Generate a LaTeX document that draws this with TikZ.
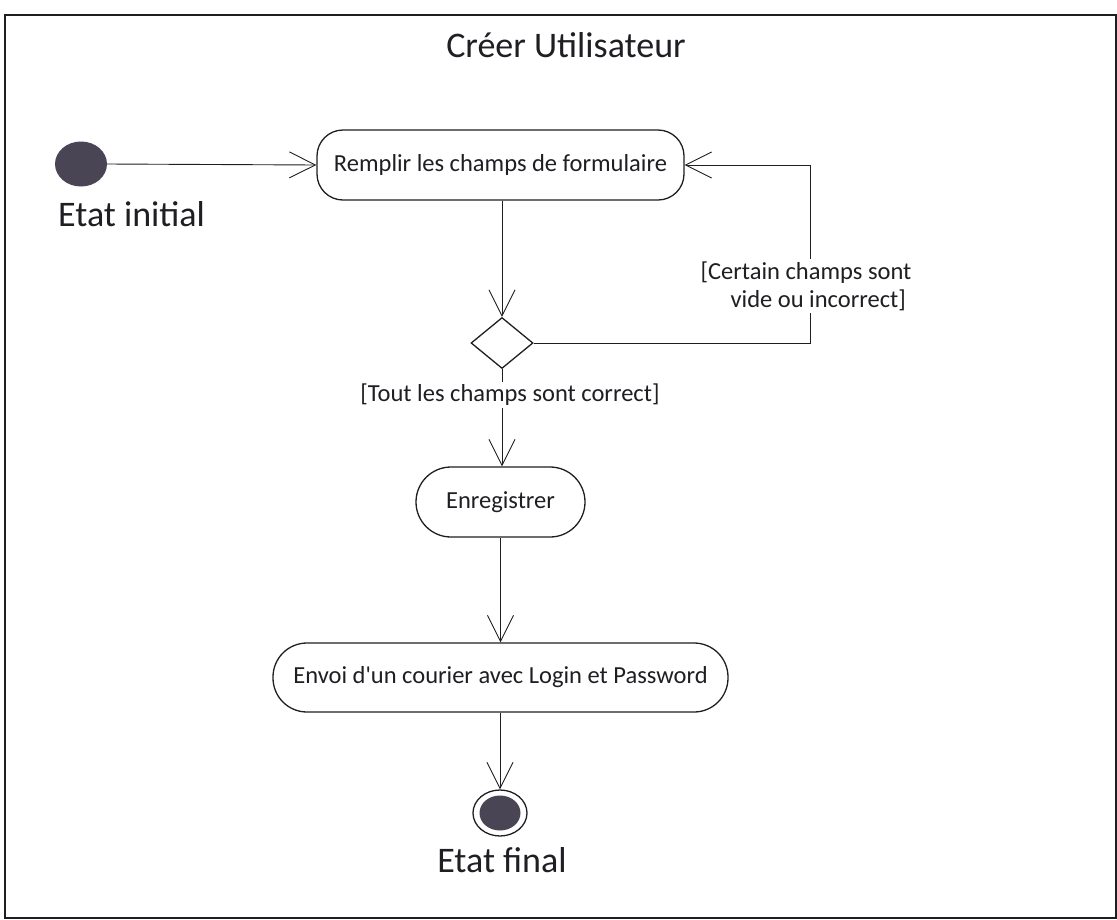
\documentclass[tikz,border=0pt]{standalone}
\usepackage{fontspec}
\setmainfont{Carlito}[Ligatures=TeXOff]
\usetikzlibrary{arrows.meta,shapes.geometric}
\definecolor{statefill}{RGB}{74,69,84}
\definecolor{inkc}{RGB}{30,30,35}
\begin{document}
\begin{tikzpicture}[x=1pt,y=-1pt,
  actbox/.style={draw=inkc, line width=1.3pt, align=center, inner sep=0pt,
    font=\fontsize{24.5}{28}\selectfont, text=inkc},
  flow/.style={draw=inkc, line width=0.9pt, -{Straight Barb[length=26pt,width=26pt,line width=0.9pt]}},
  guard/.style={font=\fontsize{24.5}{28}\selectfont, text=inkc, fill=white, align=center, inner sep=2pt},
  bigtext/.style={font=\fontsize{36}{40}\selectfont, text=inkc, inner sep=0pt},
  initst/.style={ellipse, fill=statefill, minimum width=52pt, minimum height=45pt, inner sep=0pt},
]
\useasboundingbox (0,0) rectangle (1117,919);
\draw[draw=inkc, line width=1.2pt] (5,15) rectangle (1116,918);

\node[bigtext, anchor=base] (title) at (566,57) {Créer Utilisateur};

\node[initst] (init) at (81,164) {};
\node[bigtext, anchor=base west] (initlbl) at (58,226) {Etat initial};

\node[actbox, rounded corners=26pt, minimum width=367pt, minimum height=70pt] (rem) at (500.5,165) {Remplir les champs de formulaire};
\node[draw=inkc, line width=1.3pt, diamond, minimum width=62pt, minimum height=51pt, inner sep=0pt] (dec) at (502,343) {};
\node[actbox, rounded corners=35pt, minimum width=169pt, minimum height=70pt] (enr) at (500.5,502) {Enregistrer};
\node[actbox, rounded corners=34pt, minimum width=455pt, minimum height=69pt] (env) at (500.5,677.5) {Envoi d'un courier avec Login et Password};

\node[ellipse, draw=inkc, line width=1.3pt, fill=white, minimum width=54pt, minimum height=46pt, inner sep=0pt] (fin) at (500,813) {};
\node[ellipse, fill=statefill, minimum width=41pt, minimum height=35pt, inner sep=0pt] (finin) at (fin.center) {};
\node[bigtext, anchor=base] (finlbl) at (502,872) {Etat final};

\coordinate (cr) at (810,343);
\draw[flow] (init.east) -- (rem.west);
\draw[flow] (rem.south -| dec.north) -- (dec.north);
\draw[flow] (dec.east) -- (cr) |- (rem.east);
\draw[flow] (dec.south) -- (enr.north -| dec.south);
\draw[flow] (enr.south) -- (env.north -| enr.south);
\draw[flow] (env.south -| fin.north) -- (fin.north);

\node[guard] (g1) at (806,286) {[Certain champs sont\\ \hspace*{1em}vide ou incorrect]};
\node[guard] (g2) at (510,395) {[Tout les champs sont correct]};
\end{tikzpicture}
\end{document}
